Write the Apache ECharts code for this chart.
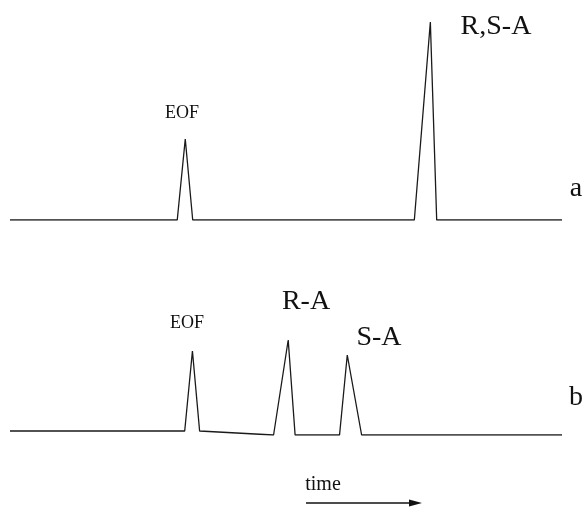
<!DOCTYPE html>
<html>
<head>
<meta charset="utf-8">
<script src="https://cdn.jsdelivr.net/npm/echarts@6/dist/echarts.min.js"></script>
<style>
  html, body { margin: 0; padding: 0; background: #fff; }
  #chart { width: 584px; height: 507px; }
</style>
</head>
<body>
<div id="chart"></div>
<script>
// trace a: EOF + co-eluting R,S-A (time in min, detector signal in a.u.)
const timeA = [0, 6.06, 6.35, 6.62, 14.65, 15.23, 15.46, 20];
const signalA = [0, 0, 40.5, 0, 0, 99, 0, 0];

// trace b: EOF, then R-A and S-A resolved
const timeB = [0, 6.33, 6.61, 6.87, 9.55, 10.08, 10.33, 11.94, 12.22, 12.74, 20];
const signalB = [2, 2, 42, 2, 0, 47.5, 0, 0, 40, 0, 0];

const pair = (xs, ys) => xs.map((x, i) => [x, ys[i]]);
const font = '"Liberation Serif", "DejaVu Serif", serif';

const chart = echarts.init(document.getElementById('chart'));

//隐藏的坐标轴
const hiddenX = (idx) => ({ type: 'value', gridIndex: idx, min: 0, max: 20, show: false });
const hiddenY = (idx) => ({ type: 'value', gridIndex: idx, min: 0, max: 100, show: false });

const lineStyle = { color: '#1a1a1a', width: 1.3 };

function label(text, x, y, size) {
    return {
        type: 'text', x: x, y: y,
        style: { text: text, font: size + 'px ' + font, fill: '#111', align: 'center', verticalAlign: 'middle' }
    };
}

let options = {
    animation: false,
    backgroundColor: '#fff',
    grid: [
        { left: 10, right: 22, top: 20, height: 200 },
        { left: 10, right: 22, top: 235, height: 200 }
    ],
    xAxis: [hiddenX(0), hiddenX(1)],
    yAxis: [hiddenY(0), hiddenY(1)],
    series: [
        { type: 'line', xAxisIndex: 0, yAxisIndex: 0, data: pair(timeA, signalA), symbol: 'none', lineStyle: lineStyle },
        { type: 'line', xAxisIndex: 1, yAxisIndex: 1, data: pair(timeB, signalB), symbol: 'none', lineStyle: lineStyle }
    ],
    graphic: [
        label('EOF', 182, 113, 18),
        label('R,S-A', 496, 27, 28),
        label('a', 576, 189, 28),
        label('EOF', 187, 323, 18),
        label('R-A', 306, 302, 28),
        label('S-A', 379, 338, 28),
        label('b', 576, 398, 28),
        label('time', 323, 485, 20),
        {
            type: 'line',
            shape: { x1: 306, y1: 503, x2: 416, y2: 503 },
            style: { stroke: '#111', lineWidth: 1.3 }
        },
        {
            type: 'polygon',
            shape: { points: [[422, 503], [409, 499.5], [409, 506.5]] },
            style: { fill: '#111' }
        }
    ]
};
chart.setOption(options);
</script>
</body>
</html>
